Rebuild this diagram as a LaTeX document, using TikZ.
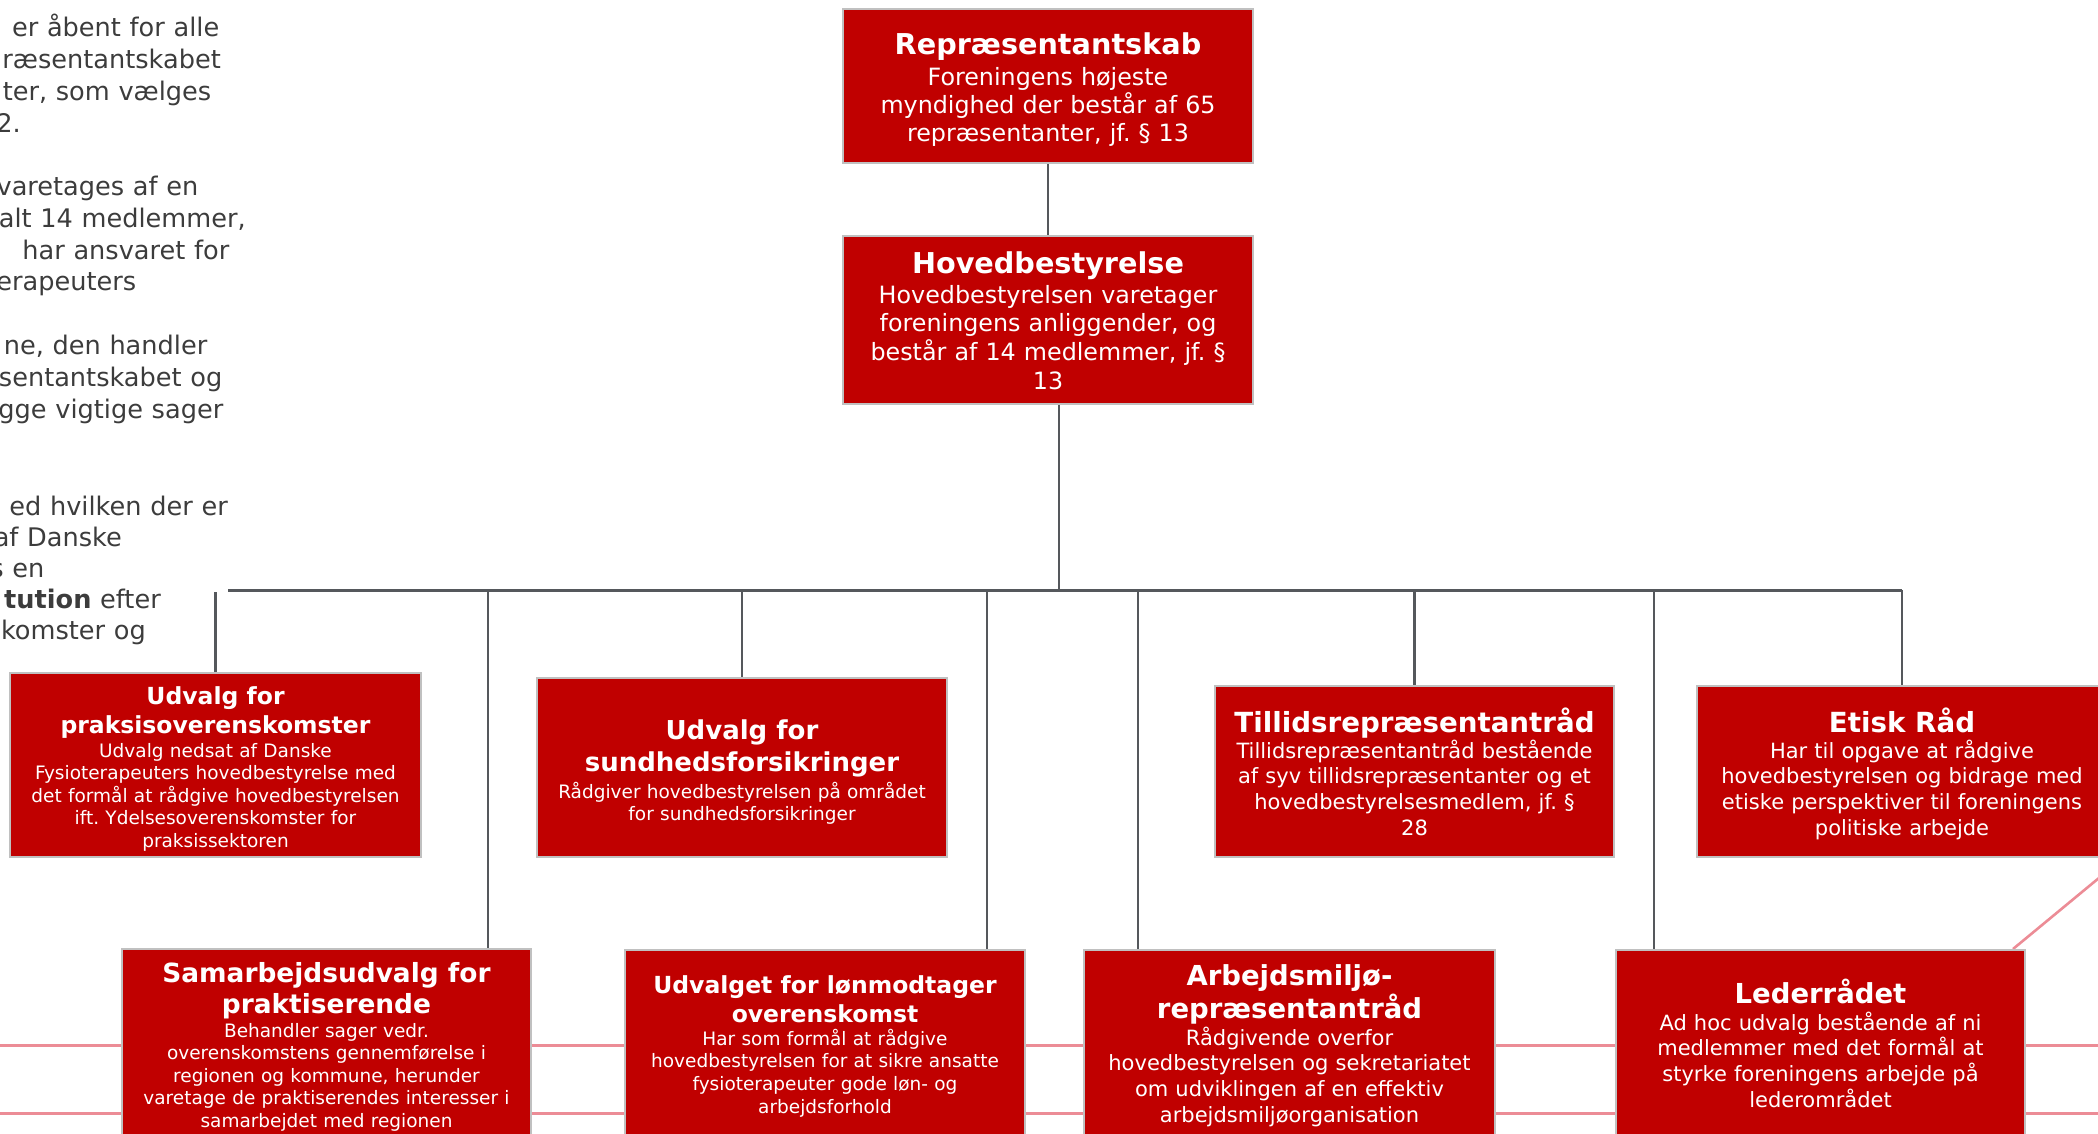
\documentclass[tikz,border=0pt]{standalone}
\usepackage{fontspec}
\setmainfont{DejaVu Sans}
\setlength\parindent{0pt}
\definecolor{boxred}{RGB}{192,0,0}
\definecolor{boxgray}{RGB}{192,192,192}
\definecolor{linegray}{RGB}{85,88,92}
\definecolor{pinkred}{RGB}{236,140,150}
\definecolor{sidegray}{RGB}{60,60,60}
\newcommand\ttl[2]{\fontsize{#1}{#2}\selectfont\bfseries\spaceskip 0.35em\relax\xspaceskip 0.35em\relax\rule{0pt}{30pt}\ignorespaces}
\newcommand\bdy[3]{\par\vskip#3pt\fontsize{#1}{#2}\selectfont\mdseries\spaceskip 0.34em\relax\xspaceskip 0.34em\relax\ignorespaces}
\newcommand\sidefont{\fontsize{25.6}{31}\selectfont\spaceskip 0.34em\relax}
\tikzset{
  orgbox/.style={rectangle, draw=boxgray, line width=2.5pt, fill=boxred, inner sep=0pt},
  txt/.style={text=white, align=center, inner sep=0pt, anchor=north},
  vline/.style={draw=linegray, line width=2.2pt},
  busline/.style={draw=linegray, line width=3pt},
  pinkline/.style={draw=pinkred, line width=2.6pt},
  sidetxt/.style={text=sidegray, anchor=base east, inner sep=0pt, font=\sidefont},
}
\begin{document}
\begin{tikzpicture}[x=1pt,y=-1pt]
\useasboundingbox (0,0) rectangle (2098,1134);
\clip (0,0) rectangle (2098,1134);

% background pink lines
\coordinate (pa1) at (-10,1045.5);
\coordinate (pa2) at (2110,1045.5);
\coordinate (pb1) at (-10,1113.5);
\coordinate (pb2) at (2110,1113.5);
\coordinate (dg1) at (2013,949);
\coordinate (dg2) at (2134,849);
\draw[pinkline] (pa1) -- (pa2);
\draw[pinkline] (pb1) -- (pb2);
\draw[pinkline] (dg1) -- (dg2);

% left side text (cut off at the left edge)
\node[sidetxt] (lt1) at (219.5,37) {er åbent for alle};
\node[sidetxt] (lt2) at (221,68.8) {ræsentantskabet};
\node[sidetxt] (lt3) at (211.5,100.6) {ter, som vælges};
\node[sidetxt] (lt4) at (21,132.4) {2.};
\node[sidetxt] (lt5) at (198.5,196) {varetages af en};
\node[sidetxt] (lt6) at (246,227.5) {alt 14 medlemmer,};
\node[sidetxt] (lt7) at (229.5,259) {har ansvaret for};
\node[sidetxt] (lt8) at (136.5,290.5) {erapeuters};
\node[sidetxt] (lt9) at (207.5,354.5) {ne, den handler};
\node[sidetxt] (lt10) at (222.5,386.2) {sentantskabet og};
\node[sidetxt] (lt11) at (223.5,418) {gge vigtige sager};
\node[sidetxt] (lt12) at (228,515) {ed hvilken der er};
\node[sidetxt] (lt13) at (122,546) {af Danske};
\node[sidetxt] (lt14) at (44.5,577) {s en};
\node[sidetxt] (lt15) at (161,608) {{\bfseries tution} efter};
\node[sidetxt] (lt16) at (146,639) {komster og};

% boxes
\node[orgbox, minimum width=410pt, minimum height=154pt] (repr) at (1048,86) {};
\node[orgbox, minimum width=410pt, minimum height=168pt] (hoved) at (1048,320) {};
\node[orgbox, minimum width=411pt, minimum height=184pt] (praksis) at (215.5,765) {};
\node[orgbox, minimum width=410pt, minimum height=179pt] (sundhed) at (742,767.5) {};
\node[orgbox, minimum width=399pt, minimum height=171pt] (tillid) at (1414.5,771.5) {};
\node[orgbox, minimum width=410pt, minimum height=171pt] (etisk) at (1902,771.5) {};
\node[orgbox, minimum width=409pt, minimum height=200pt] (samarb) at (326.5,1049) {};
\node[orgbox, minimum width=400pt, minimum height=200pt] (loen) at (825,1050) {};
\node[orgbox, minimum width=411pt, minimum height=200pt] (arbm) at (1289.5,1050) {};
\node[orgbox, minimum width=409pt, minimum height=200pt] (leder) at (1820.5,1050) {};

% texts
\node[txt, text width=405pt] (repr-t) at (1048,24) {\ttl{28.7}{33}Repræsentantskab\bdy{23.8}{28.3}{2.7}Foreningens højeste\par myndighed der består af 65\par repræsentanter, jf. § 13\par};
\node[txt, text width=405pt] (hoved-t) at (1048,243) {\ttl{28.7}{33}Hovedbestyrelse\bdy{23.8}{28.7}{1.3}Hovedbestyrelsen varetager\par foreningens anliggender, og\par består af 14 medlemmer, jf. §\par 13\par};
\node[txt, text width=405pt] (praksis-t) at (215.5,674) {\ttl{23.5}{29}Udvalg for\par praksisoverenskomster\bdy{18.5}{22.5}{1.5}Udvalg nedsat af Danske\par Fysioterapeuters hovedbestyrelse med\par det formål at rådgive hovedbestyrelsen\par ift. Ydelsesoverenskomster for\par praksissektoren\par};
\node[txt, text width=405pt] (sundhed-t) at (742,709) {\ttl{26}{32}Udvalg for\par sundhedsforsikringer\bdy{18.5}{21.5}{4.5}Rådgiver hovedbestyrelsen på området\par for sundhedsforsikringer\par};
\node[txt, text width=395pt] (tillid-t) at (1414.5,702) {\ttl{27.7}{33}Tillidsrepræsentantråd\bdy{21}{25.7}{0.3}Tillidsrepræsentantråd bestående\par af syv tillidsrepræsentanter og et\par hovedbestyrelsesmedlem, jf. §\par 28\par};
\node[txt, text width=405pt] (etisk-t) at (1902,702) {\ttl{27.7}{33}Etisk Råd\bdy{21}{25.7}{0.3}Har til opgave at rådgive\par hovedbestyrelsen og bidrage med\par etiske perspektiver til foreningens\par politiske arbejde\par};
\node[txt, text width=405pt] (samarb-t) at (326.5,952) {\ttl{26.4}{31}Samarbejdsudvalg for\par praktiserende\bdy{18.5}{22.5}{1.5}Behandler sager vedr.\par overenskomstens gennemførelse i\par regionen og kommune, herunder\par varetage de praktiserendes interesser i\par samarbejdet med regionen\par};
\node[txt, text width=395pt] (loen-t) at (825,963) {\ttl{23.5}{29}Udvalget for lønmodtager\par overenskomst\bdy{18.5}{22.7}{0.3}Har som formål at rådgive\par hovedbestyrelsen for at sikre ansatte\par fysioterapeuter gode løn- og\par arbejdsforhold\par};
\node[txt, text width=405pt] (arbm-t) at (1289.5,955) {\ttl{27.5}{33}Arbejdsmiljø-\par repræsentantråd\bdy{21}{25.7}{1.3}Rådgivende overfor\par hovedbestyrelsen og sekretariatet\par om udviklingen af en effektiv\par arbejdsmiljøorganisation\par};
\node[txt, text width=405pt] (leder-t) at (1820.5,973) {\ttl{27.5}{33}Lederrådet\bdy{21}{25.7}{1.3}Ad hoc udvalg bestående af ni\par medlemmer med det formål at\par styrke foreningens arbejde på\par lederområdet\par};

% connectors
\coordinate (busL) at (228,590);
\coordinate (busR) at (1902,590);
\coordinate (b488) at (488,590);
\coordinate (b742) at (742,590);
\coordinate (b987) at (987,590);
\coordinate (b1059) at (1059,590);
\coordinate (b1138) at (1138,590);
\coordinate (b1414) at (1414.5,590);
\coordinate (b1654) at (1654,590);
\coordinate (pkTop) at (215.5,592);

\draw[vline] (repr) -- (hoved);
\draw[vline] (b1059 |- hoved.south) -- (b1059);
\draw[busline] (busL) -- (busR);
\draw[vline] (busR) -- (etisk.north);
\draw[vline] (pkTop) -- (praksis.north);
\draw[vline] (b488) -- (b488 |- samarb.north);
\draw[vline] (b742) -- (sundhed.north);
\draw[vline] (b987) -- (b987 |- loen.north);
\draw[vline] (b1138) -- (b1138 |- arbm.north);
\draw[vline] (b1414) -- (tillid.north);
\draw[vline] (b1654) -- (b1654 |- leder.north);
\end{tikzpicture}
\end{document}
